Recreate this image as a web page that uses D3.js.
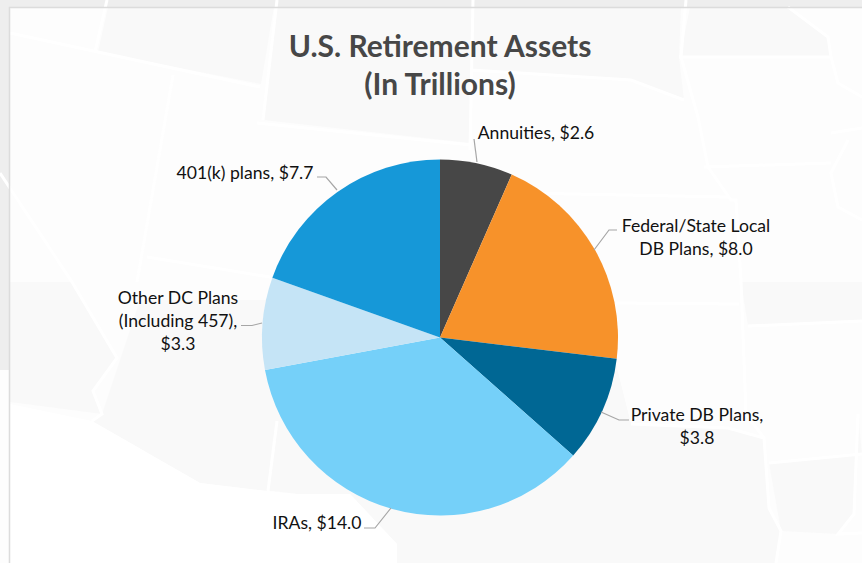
<!DOCTYPE html>
<html>
<head>
<meta charset="utf-8">
<script src="https://cdnjs.cloudflare.com/ajax/libs/d3/7.8.5/d3.min.js"></script>
<style>
html,body{margin:0;padding:0;background:#fff;overflow:hidden}
svg{display:block}
text{font-family:Lato,"Open Sans",sans-serif}
</style>
</head>
<body>
<svg id="chart" width="862" height="563"></svg>
<script>
const categories = ["Annuities","Federal/State Local DB Plans","Private DB Plans","IRAs","Other DC Plans (Including 457)","401(k) plans"];
const values = [2.6,8.0,3.8,14.0,3.3,7.7];
const colors = ["#474747","#F7922A","#006794","#75D0F9","#C5E4F6","#1698D8"];
const titleLines = ["U.S. Retirement Assets","(In Trillions)"];
const labelLines = [
  ["Annuities, $2.6"],
  ["Federal/State Local","DB Plans, $8.0"],
  ["Private DB Plans,","$3.8"],
  ["IRAs, $14.0"],
  ["Other DC Plans","(Including 457),","$3.3"],
  ["401(k) plans, $7.7"]
];
// label layout (centre x, first baseline y) and leader elbows
const labelPos = [[536,139],[696,232],[697,421],[317,529],[178,304],[245,179]];
const leaders = [
  [[474,139],[477,162]],
  [[617,230],[609,230],[594,250]],
  [[629,420],[619,420],[601,412]],
  [[364,528],[375,528],[391,508]],
  [[241,325.5],[252,325.5],[262,323]],
  [[317,177],[326,177],[337,190]]
];
// decorative faint state-map backdrop
const mapFillPanels = [
  "M98,52 L108,7 L274,7 L261,84 Z",
  "M263,120 L277,7 L473,7 L471,70 L470,143 Z",
  "M473,7 L681,7 L679,57 L684,100 L631,80 L471,70 Z",
  "M690,7 L790,7 L828,37 L831,57 L680,57 Z",
  "M10,282 L72,282 L117,358 L93,391 L102,414 L10,402 Z",
  "M92,421 L200,483 L267,491 L273,491 L297,494 L350,494 L397,544 L397,563 L776,563 L781,531 L769,508 L764,438 L728,428 L631,424 L600,300 L400,300 L262,300 L200,300 L140,300 L120,360 L102,414 Z",
  "M741,282 L862,282 L862,321 L748,326 Z",
  "M769,463 L862,454 L858,414 L854,514 L838,534 L781,531 Z"
];
const lowerWhite = "M10,404 L92,421 L200,483 L267,491 L297,494 L350,494 L397,544 L397,563 L10,563 Z";
const mapLines = [
  "M107,0 L95,52","M10,33 L260,87","M173,75 L137,282","M257,123 L471,145",
  "M277,0 L263,120","M0,173 L72,282 L117,358 L93,391 L102,414 L92,421",
  "M473,0 L470,150","M471,70 L631,80 L684,100",
  "M686,0 L681,57 L698,117 L708,167 L731,200 L736,200 L741,281 L746,414 L764,438 L769,508 L781,531 L776,563",
  "M679,57 L831,57","M788,7 L828,37 L831,57 L838,83 L862,97","M704,167 L831,163",
  "M521,193 L728,197","M831,133 L862,128","M848,140 L831,173 L838,207 L862,220",
  "M616,303 L739,304","M748,326 L862,321","M631,424 L728,428 L764,438",
  "M769,463 L862,454","M858,414 L854,514 L838,534 L862,533",
  "M277,421 L268,491","M147,257 L270,277"
];

const svg = d3.select("#chart");
const bg = svg.append("g");
bg.append("rect").attr("width",862).attr("height",563).attr("fill","#fdfdfd");
bg.append("rect").attr("width",862).attr("height",7).attr("fill","#eeeeee");
bg.append("rect").attr("width",9).attr("height",370).attr("fill","#eeeeee");
bg.selectAll("path.p").data(mapFillPanels).join("path").attr("class","p").attr("d",d=>d).attr("fill","#f9f9f9");
bg.append("path").attr("d",lowerWhite).attr("fill","#fff");
bg.selectAll("path.l").data(mapLines).join("path").attr("class","l").attr("d",d=>d)
  .attr("fill","none").attr("stroke","#fff").attr("stroke-width",3);
bg.append("path").attr("d","M9.5,563 L9.5,7.5 L862,7.5").attr("fill","none").attr("stroke","#dcdcdc").attr("stroke-width",1.5);

const cx=440, cy=337.5, r=178;
const pie = d3.pie().sort(null).value(d=>d);
const arc = d3.arc().innerRadius(0).outerRadius(r);
const g = svg.append("g").attr("transform",`translate(${cx},${cy})`);
g.selectAll("path").data(pie(values)).join("path").attr("d",arc).attr("fill",(d,i)=>colors[i]);

svg.append("g").selectAll("path").data(leaders).join("path")
  .attr("d",d3.line()).attr("fill","none").attr("stroke","#a6a6a6").attr("stroke-width",1.2);

svg.append("g").selectAll("text").data(titleLines).join("text")
  .attr("x",440).attr("y",(d,i)=>57+i*37.5).attr("text-anchor","middle")
  .attr("font-size",30).attr("font-weight",700).attr("fill","#474747").text(d=>d);

const lab = svg.append("g").selectAll("text").data(labelLines).join("text")
  .attr("text-anchor","middle").attr("font-size",17.6).attr("fill","#111");
lab.each(function(lines,i){
  d3.select(this).selectAll("tspan").data(lines).join("tspan")
    .attr("x",labelPos[i][0]).attr("y",(d,j)=>labelPos[i][1]+j*23).text(d=>d);
});
</script>
</body>
</html>
